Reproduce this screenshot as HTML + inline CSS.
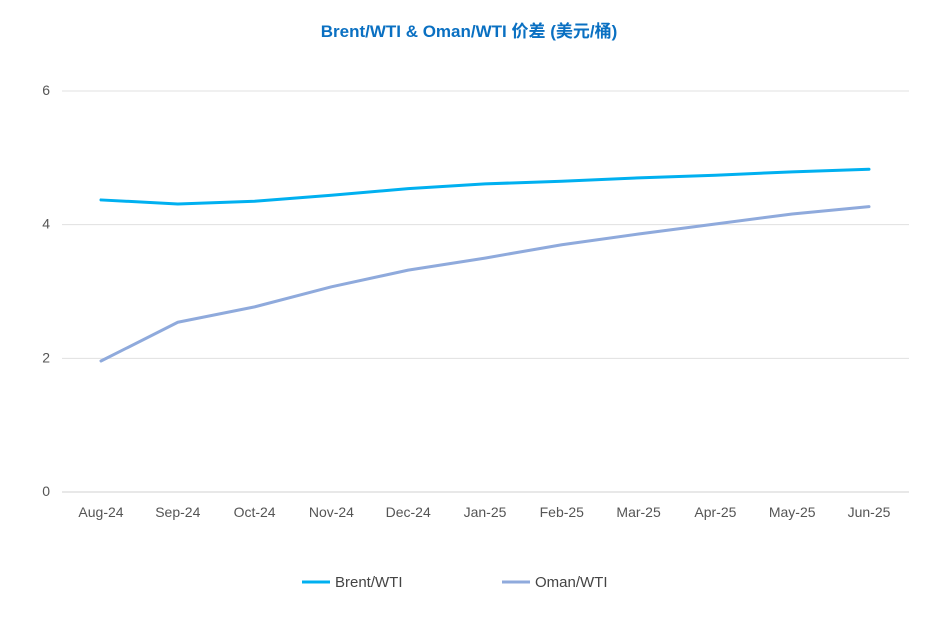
<!DOCTYPE html>
<html><head><meta charset="utf-8"><style>
body{margin:0;background:#fff;font-family:"Liberation Sans","Noto Sans CJK SC",sans-serif;}
svg text{font-family:"Liberation Sans","Noto Sans CJK SC",sans-serif;}
</style></head><body>
<svg id="chart" width="937" height="634">
<text x="469" y="37" text-anchor="middle" font-size="17" font-weight="bold" fill="#0a70c2">Brent/WTI &amp; Oman/WTI 价差 (美元/桶)</text>
<g id="grid"></g><g id="yticks"></g><g id="xticks"></g><g id="series"></g>
<g>
<line x1="302" y1="582" x2="330" y2="582" stroke="#00b0f0" stroke-width="3"/>
<text x="335" y="587" font-size="15" fill="#444">Brent/WTI</text>
<line x1="502" y1="582" x2="530" y2="582" stroke="#8faadc" stroke-width="3"/>
<text x="535" y="587" font-size="15" fill="#444">Oman/WTI</text>
</g>
</svg>
<script>
const categories=["Aug-24","Sep-24","Oct-24","Nov-24","Dec-24","Jan-25","Feb-25","Mar-25","Apr-25","May-25","Jun-25"];
const brent=[4.37,4.31,4.35,4.44,4.54,4.61,4.65,4.70,4.74,4.79,4.83];
const oman=[1.96,2.54,2.77,3.07,3.32,3.50,3.70,3.86,4.01,4.16,4.27];
const yTicks=[0,2,4,6];
const NS="http://www.w3.org/2000/svg";
const y=v=>492-v*(401/6);
const x=i=>101+i*76.8;
const grid=document.getElementById('grid'),yt=document.getElementById('yticks'),xt=document.getElementById('xticks'),se=document.getElementById('series');
yTicks.forEach(t=>{
 const l=document.createElementNS(NS,'line');
 l.setAttribute('x1',62);l.setAttribute('x2',909);l.setAttribute('y1',y(t));l.setAttribute('y2',y(t));
 l.setAttribute('stroke',t===0?'#d0d0d0':'#e0e0e0');l.setAttribute('stroke-width',1);
 
 
 grid.appendChild(l);
 const tx=document.createElementNS(NS,'text');
 tx.setAttribute('x',50);tx.setAttribute('y',y(t)+4);tx.setAttribute('text-anchor','end');tx.setAttribute('font-size',14);tx.setAttribute('fill','#555');
 tx.textContent=t;
 
 
 yt.appendChild(tx);
});
categories.forEach((c,i)=>{
 const tx=document.createElementNS(NS,'text');
 tx.setAttribute('x',x(i));tx.setAttribute('y',517);tx.setAttribute('text-anchor','middle');tx.setAttribute('font-size',14);tx.setAttribute('fill','#555');
 tx.textContent=c;
 
 
 xt.appendChild(tx);
});
function line(d,color,name){
 const p=document.createElementNS(NS,'polyline');
 p.setAttribute('points',d.map((v,i)=>x(i)+','+y(v)).join(' '));
 p.setAttribute('fill','none');p.setAttribute('stroke',color);p.setAttribute('stroke-width',3);p.setAttribute('stroke-linejoin','round');p.setAttribute('stroke-linecap','round');
 
 
 se.appendChild(p);
}
line(oman,'#8faadc','oman-wti-line');
line(brent,'#00b0f0','brent-wti-line');
</script>
</body></html>
